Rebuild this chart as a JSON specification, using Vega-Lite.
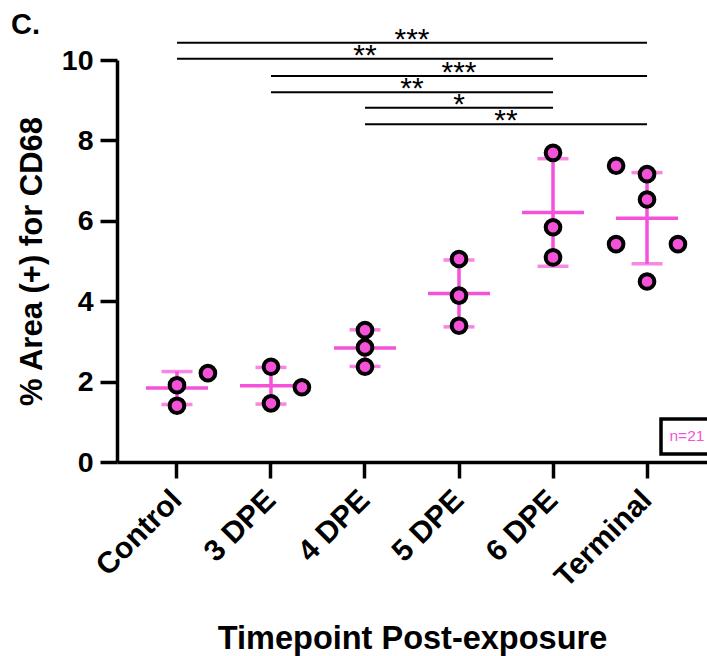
{
  "$schema": "https://vega.github.io/schema/vega-lite/v6.json",
  "autosize": {"type": "none"},
  "padding": {"left": 117, "top": 60, "right": 0, "bottom": 194},
  "width": 590,
  "height": 402,
  "title": {"text": "C.", "anchor": "start", "frame": "group", "dx": -106, "offset": -15, "fontSize": 29, "fontWeight": "bold", "font": "Liberation Sans", "color": "black"},
  "config": {
    "view": {"stroke": null},
    "font": "Liberation Sans",
    "axis": {"grid": false, "domainColor": "black", "tickColor": "black", "labelColor": "black", "titleColor": "black", "domainWidth": 3.5, "tickWidth": 3.5, "labelFont": "Liberation Sans", "titleFont": "Liberation Sans", "labelFontWeight": "bold", "titleFontWeight": "bold"},
    "legend": {"strokeColor": "black", "strokeWidth": 3.5, "padding": 9}
  },
  "datasets": {
    "cd68": [
      {"group": "Control", "value": 1.91, "lane": "C"},
      {"group": "Control", "value": 1.40, "lane": "C"},
      {"group": "Control", "value": 2.21, "lane": "R"},
      {"group": "3 DPE", "value": 2.37, "lane": "C"},
      {"group": "3 DPE", "value": 1.46, "lane": "C"},
      {"group": "3 DPE", "value": 1.86, "lane": "R"},
      {"group": "4 DPE", "value": 3.28, "lane": "C"},
      {"group": "4 DPE", "value": 2.85, "lane": "C"},
      {"group": "4 DPE", "value": 2.37, "lane": "C"},
      {"group": "5 DPE", "value": 5.05, "lane": "C"},
      {"group": "5 DPE", "value": 4.14, "lane": "C"},
      {"group": "5 DPE", "value": 3.39, "lane": "C"},
      {"group": "6 DPE", "value": 7.69, "lane": "C"},
      {"group": "6 DPE", "value": 5.84, "lane": "C"},
      {"group": "6 DPE", "value": 5.09, "lane": "C"},
      {"group": "Terminal", "value": 7.37, "lane": "L"},
      {"group": "Terminal", "value": 7.16, "lane": "C"},
      {"group": "Terminal", "value": 6.53, "lane": "C"},
      {"group": "Terminal", "value": 5.42, "lane": "L"},
      {"group": "Terminal", "value": 5.42, "lane": "R"},
      {"group": "Terminal", "value": 4.49, "lane": "C"}
    ],
    "sig": [
      {"comp": 1, "stars": "***", "level": 10.43, "idx": 0},
      {"comp": 1, "stars": "***", "level": 10.43, "idx": 5},
      {"comp": 2, "stars": "**", "level": 10.03, "idx": 0},
      {"comp": 2, "stars": "**", "level": 10.03, "idx": 4},
      {"comp": 3, "stars": "***", "level": 9.60, "idx": 1},
      {"comp": 3, "stars": "***", "level": 9.60, "idx": 5},
      {"comp": 4, "stars": "**", "level": 9.20, "idx": 1},
      {"comp": 4, "stars": "**", "level": 9.20, "idx": 4},
      {"comp": 5, "stars": "*", "level": 8.81, "idx": 2},
      {"comp": 5, "stars": "*", "level": 8.81, "idx": 4},
      {"comp": 6, "stars": "**", "level": 8.40, "idx": 2},
      {"comp": 6, "stars": "**", "level": 8.40, "idx": 5}
    ],
    "note": [{"note": "n=21"}]
  },
  "layer": [
    {
      "data": {"name": "cd68"},
      "encoding": {
        "x": {"field": "group", "type": "nominal", "sort": ["Control", "3 DPE", "4 DPE", "5 DPE", "6 DPE", "Terminal"],
              "scale": {"type": "band", "domain": ["Control", "3 DPE", "4 DPE", "5 DPE", "6 DPE", "Terminal"], "paddingInner": 0, "paddingOuter": 0.138},
              "axis": {"title": "Timepoint Post-exposure", "titleFontSize": 32.5, "titlePadding": 30, "labelAngle": -45, "labelAlign": "right", "labelBaseline": "middle", "labelFontSize": 30, "labelPadding": 17, "tickSize": 16}},
        "y": {"field": "value", "type": "quantitative",
              "scale": {"domain": [0, 10], "nice": false, "zero": true},
              "axis": {"title": "% Area (+) for CD68", "titleFontSize": 31, "titlePadding": 13, "values": [0, 2, 4, 6, 8, 10], "labelFontSize": 28.5, "labelPadding": 7, "tickSize": 17}}
      },
      "layer": [
        {"mark": {"type": "errorbar", "extent": "stdev", "color": "#f452d9", "thickness": 3.5, "ticks": {"size": 31, "color": "#f452d9"}}},
        {"mark": {"type": "tick", "size": 62, "thickness": 3.5, "color": "#f452d9"}, "encoding": {"y": {"aggregate": "mean", "field": "value", "type": "quantitative"}}},
        {"mark": {"type": "point", "filled": true, "fill": "#f452d9", "stroke": "black", "strokeWidth": 4, "size": 215, "opacity": 1, "fillOpacity": 1},
         "encoding": {"xOffset": {"field": "lane", "type": "nominal", "scale": {"domain": ["L", "C", "R"], "paddingInner": 0, "paddingOuter": 0.52}}}}
      ]
    },
    {
      "data": {"name": "sig"},
      "encoding": {
        "y": {"field": "level", "type": "quantitative"}
      },
      "layer": [
        {"mark": {"type": "rule", "color": "black", "strokeWidth": 2},
         "encoding": {
           "x": {"aggregate": "min", "field": "idx", "type": "quantitative", "scale": {"domain": [-0.638, 5.638], "nice": false, "zero": false}, "axis": null},
           "x2": {"aggregate": "max", "field": "idx"},
           "detail": {"field": "comp", "type": "nominal"}
         }},
        {"mark": {"type": "text", "color": "black", "fontSize": 30, "baseline": "middle", "align": "center", "font": "Liberation Sans", "dy": -3},
         "encoding": {
           "x": {"aggregate": "mean", "field": "idx", "type": "quantitative", "scale": {"domain": [-0.638, 5.638], "nice": false, "zero": false}, "axis": null},
           "text": {"field": "stars", "type": "nominal"},
           "detail": {"field": "comp", "type": "nominal"}
         }}
      ]
    },
    {
      "data": {"name": "note"},
      "mark": {"type": "point", "opacity": 0},
      "encoding": {
        "color": {"field": "note", "type": "nominal", "scale": {"range": ["#f452d9"]},
                  "legend": {"title": null, "orient": "none", "legendX": 544, "legendY": 359, "labelColor": "#f452d9", "labelFontSize": 15.5, "labelFont": "Liberation Sans", "labelFontWeight": "normal", "symbolSize": 0, "symbolOpacity": 0, "symbolStrokeWidth": 0, "labelOffset": -16, "strokeColor": "black", "padding": 9}}
      }
    }
  ],
  "resolve": {"scale": {"x": "independent"}}
}
